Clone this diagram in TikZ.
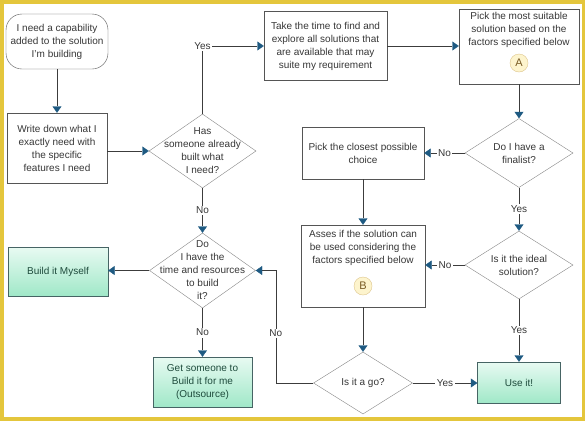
\documentclass[tikz,border=0pt]{standalone}
\usepackage{fontspec}
\setmainfont{Liberation Sans}
\usetikzlibrary{shapes.geometric,arrows.meta}

\definecolor{moldura}{RGB}{228,198,60}
\definecolor{borda}{RGB}{85,85,85}
\definecolor{bordalos}{RGB}{135,135,135}
\definecolor{texto}{RGB}{55,55,55}
\definecolor{linha}{RGB}{60,60,60}
\definecolor{ponta}{RGB}{30,90,130}
\definecolor{verdeclaro}{RGB}{232,250,242}
\definecolor{verdeescuro}{RGB}{160,232,200}
\definecolor{bordaverde}{RGB}{70,100,100}
\definecolor{textoverde}{RGB}{30,75,60}
\definecolor{fundocirc}{RGB}{253,244,205}
\definecolor{bordacirc}{RGB}{222,198,140}
\definecolor{letracirc}{RGB}{120,90,35}

\begin{document}
\begin{tikzpicture}[x=1pt,y=-1pt,
  font=\fontsize{10}{13}\selectfont,
  caixa/.style={draw=borda,fill=white,text=texto,align=center},
  losango/.style={draw=bordalos,fill=white,diamond,inner sep=0pt},
  dtxt/.style={text=texto,align=center},
  verde/.style={draw=bordaverde,top color=verdeclaro,bottom color=verdeescuro,text=textoverde,align=center},
  letra/.style={circle,draw=bordacirc,fill=fundocirc,text=letracirc,minimum size=18pt,inner sep=0pt,font=\fontsize{11}{13}\selectfont},
  seta/.style={draw=linha,-{Triangle[width=9pt,length=6.5pt,color=ponta]}},
  rot/.style={fill=white,text=texto,inner sep=1.5pt}]

% moldura
\useasboundingbox (0,0) rectangle (585,421);
\fill[moldura] (0,0) rectangle (585,421);
\fill[white] (4,4) rectangle (582,417);

% caixas
\node[caixa,rounded corners=16pt,minimum width=102pt,minimum height=55pt] (inicio) at (57,41.5) {I need a capability\\added to the solution\\I'm building};
\node[caixa,minimum width=100pt,minimum height=70pt] (anotar) at (57,148) {Write down what I\\exactly need with\\the specific\\features I need};
\node[caixa,minimum width=123pt,minimum height=69pt] (procurar) at (325.5,46) {Take the time to find and\\explore all solutions that\\are available that may\\suite my requirement};
\node[caixa,minimum width=120pt,minimum height=75pt] (escolher) at (519,46.5) {};
\node[dtxt,anchor=north] (escolherT) at (escolher.north) {Pick the most suitable\\solution based on the\\factors specified below};
\node[letra] (letraA) at (519,63) {A};
\node[caixa,minimum width=122pt,minimum height=52pt] (proxima) at (363,153) {Pick the closest possible\\choice};
\node[caixa,minimum width=124pt,minimum height=82pt] (avaliar) at (363,266) {};
\node[dtxt,anchor=north] (avaliarT) at ([yshift=-2pt]avaliar.north) {Asses if the solution can\\be used considering the\\factors specified below};
\node[letra] (letraB) at (363,286) {B};

% caixas verdes
\node[verde,minimum width=100pt,minimum height=49pt] (construir) at (58,271.5) {Build it Myself};
\node[verde,minimum width=99pt,minimum height=50pt] (terceirizar) at (202.5,382) {Get someone to\\Build it for me\\(Outsource)};
\node[verde,minimum width=83pt,minimum height=41pt] (usar) at (519,382.5) {Use it!};

% losangos
\node[losango,minimum width=107pt,minimum height=74pt,label={[dtxt]center:{Has\\someone already\\built what\\I need?}}] (jaexiste) at (202.5,151) {};
\node[losango,minimum width=106pt,minimum height=75pt,label={[dtxt]center:{Do\\I have the\\time and resources\\to build\\it?}}] (tempo) at (202.5,270.5) {};
\node[losango,minimum width=108pt,minimum height=69pt,label={[dtxt]center:{Do I have a\\finalist?}}] (finalista) at (519,153) {};
\node[losango,minimum width=108pt,minimum height=68pt,label={[dtxt]center:{Is it the ideal\\solution?}}] (ideal) at (519,265) {};
\node[losango,minimum width=99pt,minimum height=62pt,label={[dtxt]center:{Is it a go?}}] (vai) at (363,383) {};

% setas
\draw[seta] (inicio) -- (anotar);
\draw[seta] (anotar.east |- jaexiste) -- (jaexiste.west);
\draw[seta] (jaexiste.north) |- node[rot,pos=0.5] {Yes} (procurar.west);
\draw[seta] (procurar.east) -- (procurar.east -| escolher.west);
\draw[seta] (escolher) -- (finalista);
\draw[seta] (finalista) -- node[rot] {No} (proxima);
\draw[seta] (finalista) -- node[rot] {Yes} (ideal);
\draw[seta] (proxima) -- (avaliar);
\draw[seta] (ideal.west) -- node[rot] {No} (ideal.west -| avaliar.east);
\draw[seta] (ideal) -- node[rot] {Yes} (usar);
\draw[seta] (avaliar) -- (vai);
\draw[seta] (vai.east) -- node[rot] {Yes} (vai.east -| usar.west);
\draw[seta] (vai.west) -| node[rot,pos=0.72] {No} ([xshift=20pt]tempo.east) -- (tempo.east);
\draw[seta] (jaexiste) -- node[rot] {No} (tempo);
\draw[seta] (tempo.west) -- (tempo.west -| construir.east);
\draw[seta] (tempo) -- node[rot] {No} (terceirizar);

\end{tikzpicture}
\end{document}
